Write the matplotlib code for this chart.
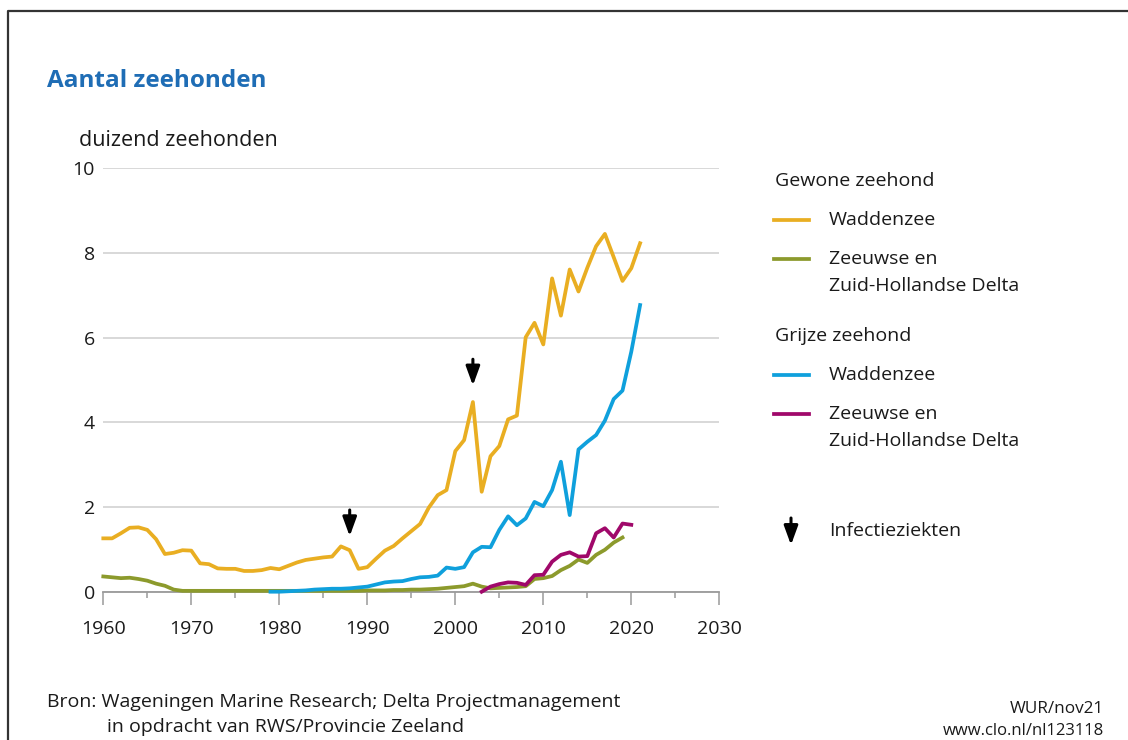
import matplotlib
matplotlib.use("Agg")
import matplotlib.pyplot as plt
from matplotlib.lines import Line2D

# ---------------- data (duizend zeehonden) ----------------
gewone_wadden_years = list(range(1960, 2022))
gewone_wadden = [1.26, 1.26, 1.38, 1.51, 1.52, 1.46, 1.24, 0.89, 0.92, 0.98,
                 0.97, 0.67, 0.65, 0.55, 0.54, 0.54, 0.49, 0.49, 0.51, 0.56,
                 0.53, 0.61, 0.69, 0.75, 0.78, 0.81, 0.83, 1.07, 0.98, 0.54,
                 0.58, 0.78, 0.97, 1.08, 1.26, 1.43, 1.60, 1.99, 2.28, 2.40,
                 3.32, 3.58, 4.48, 2.36, 3.20, 3.44, 4.07, 4.16, 6.01, 6.35,
                 5.84, 7.40, 6.52, 7.61, 7.09, 7.65, 8.16, 8.45, 7.90, 7.34,
                 7.64, 8.23]

gewone_delta_years = list(range(1960, 2020))
gewone_delta = [0.36, 0.34, 0.32, 0.33, 0.30, 0.26, 0.19, 0.14, 0.05, 0.02,
                0.02, 0.02, 0.02, 0.02, 0.02, 0.02, 0.02, 0.02, 0.02, 0.02,
                0.02, 0.02, 0.02, 0.02, 0.02, 0.02, 0.02, 0.02, 0.02, 0.02,
                0.03, 0.03, 0.03, 0.04, 0.04, 0.05, 0.05, 0.06, 0.07, 0.09,
                0.11, 0.13, 0.19, 0.12, 0.08, 0.09, 0.10, 0.11, 0.13, 0.30,
                0.32, 0.37, 0.51, 0.61, 0.76, 0.68, 0.87, 0.99, 1.16, 1.28]

grijze_wadden_years = list(range(1979, 2022))
grijze_wadden = [0.00, 0.00, 0.01, 0.02, 0.03, 0.05, 0.06, 0.07, 0.07, 0.08,
                 0.10, 0.12, 0.17, 0.22, 0.24, 0.25, 0.30, 0.34, 0.35, 0.38,
                 0.57, 0.54, 0.58, 0.93, 1.06, 1.05, 1.46, 1.78, 1.57, 1.73,
                 2.12, 2.02, 2.40, 3.07, 1.81, 3.36, 3.54, 3.70, 4.04, 4.55,
                 4.75, 5.67, 6.77]

grijze_delta_years = list(range(2003, 2021))
grijze_delta = [0.00, 0.12, 0.18, 0.22, 0.21, 0.16, 0.39, 0.40, 0.71, 0.87,
                0.93, 0.83, 0.84, 1.38, 1.50, 1.28, 1.61, 1.58]

infectie_years = [1988, 2002]
infectie_tips = [1.31, 4.87]

x_ticks = [1960, 1970, 1980, 1990, 2000, 2010, 2020, 2030]
y_ticks = [0, 2, 4, 6, 8, 10]

# ---------------- style ----------------
C_YELLOW = "#e9ae22"
C_GREEN = "#8c9a2c"
C_BLUE = "#0fa0dc"
C_PURPLE = "#a0086a"
C_TITLE = "#1f6db5"
C_TEXT = "#1a1a1a"

plt.rcParams["font.family"] = ["Open Sans", "DejaVu Sans"]

W, H = 1128, 740
fig = plt.figure(figsize=(W / 100, H / 100), dpi=100)


def fx(x):
    return x / W


def fy(y):
    return 1 - y / H


ax = fig.add_axes([fx(103.3), fy(591.7), (719.3 - 103.3) / W, (591.7 - 168.3) / H])
ax.set_xlim(1960, 2030)
ax.set_ylim(0, 10)

lw = 2.7
ax.plot(gewone_delta_years, gewone_delta, color=C_GREEN, lw=lw, clip_on=False, zorder=3)
ax.plot(grijze_delta_years, grijze_delta, color=C_PURPLE, lw=lw, clip_on=False, zorder=4)
ax.plot(grijze_wadden_years, grijze_wadden, color=C_BLUE, lw=lw, clip_on=False, zorder=5)
ax.plot(gewone_wadden_years, gewone_wadden, color=C_YELLOW, lw=lw, clip_on=False, zorder=6)

ARROW = "-|>,head_width=0.42,head_length=1.15"
for yr, tip in zip(infectie_years, infectie_tips):
    ax.annotate("", xy=(yr, tip), xytext=(yr, tip + 0.62),
                arrowprops=dict(arrowstyle=ARROW, lw=2.2, color="black",
                                shrinkA=0, shrinkB=0),
                zorder=7)

for s in ["top", "right", "left"]:
    ax.spines[s].set_visible(False)
ax.spines["bottom"].set_color("#9a9a9a")
ax.spines["bottom"].set_linewidth(1.3)

fs = 14
ax.set_xticks(x_ticks)
ax.set_xticks(list(range(1965, 2030, 10)), minor=True)
ax.set_yticks(y_ticks)
ax.tick_params(axis="x", which="major", length=9.5, width=1.1, color="#9a9a9a",
               labelsize=fs, labelcolor=C_TEXT, pad=11)
ax.tick_params(axis="x", which="minor", length=4.5, width=1.1, color="#9a9a9a")
ax.tick_params(axis="y", length=0, labelsize=fs, labelcolor=C_TEXT, pad=6)
ax.yaxis.grid(True, color="#d5d5d5", lw=1.3)
ax.set_axisbelow(True)

# ---------------- texts ----------------
fig.text(fx(47), fy(81), "Aantal zeehonden", color=C_TITLE, fontsize=17.5,
         fontweight="bold", va="center", ha="left")
fig.text(fx(79), fy(141), "duizend zeehonden", color=C_TEXT, fontsize=15.5,
         va="center", ha="left")

fig.text(fx(775), fy(181), "Gewone zeehond", color=C_TEXT, fontsize=fs, va="center")
fig.text(fx(775), fy(336), "Grijze zeehond", color=C_TEXT, fontsize=fs, va="center")
legend_items = [
    (220, C_YELLOW, ["Waddenzee"]),
    (259, C_GREEN, ["Zeeuwse en", "Zuid-Hollandse Delta"]),
    (375, C_BLUE, ["Waddenzee"]),
    (414, C_PURPLE, ["Zeeuwse en", "Zuid-Hollandse Delta"]),
]
for y, c, labs in legend_items:
    fig.add_artist(Line2D([fx(774), fx(809)], [fy(y), fy(y)], color=c, lw=2.7))
    for i, lab in enumerate(labs):
        fig.text(fx(829), fy(y + 27 * i), lab, color=C_TEXT, fontsize=fs,
                 va="center", ha="left")

ax.annotate("", xy=(fx(791), fy(545)), xytext=(fx(791), fy(518)),
            xycoords="figure fraction", textcoords="figure fraction",
            arrowprops=dict(arrowstyle=ARROW, lw=2.2, color="black",
                            shrinkA=0, shrinkB=0))
fig.text(fx(829), fy(531), "Infectieziekten", color=C_TEXT, fontsize=fs, va="center")

fig.text(fx(47), fy(702), "Bron: Wageningen Marine Research; Delta Projectmanagement",
         color=C_TEXT, fontsize=fs, va="center", ha="left")
fig.text(fx(107), fy(727), "in opdracht van RWS/Provincie Zeeland",
         color=C_TEXT, fontsize=fs, va="center", ha="left")
fig.text(fx(1104), fy(709), "WUR/nov21", color=C_TEXT, fontsize=12.3, va="center", ha="right")
fig.text(fx(1104), fy(731), "www.clo.nl/nl123118", color=C_TEXT, fontsize=12,
         va="center", ha="right")

# frame
fig.add_artist(Line2D([fx(8), fx(8), 1.0], [0.0, fy(11), fy(11)], color="#333333", lw=1.6))

fig.savefig("out.png", dpi=100)
